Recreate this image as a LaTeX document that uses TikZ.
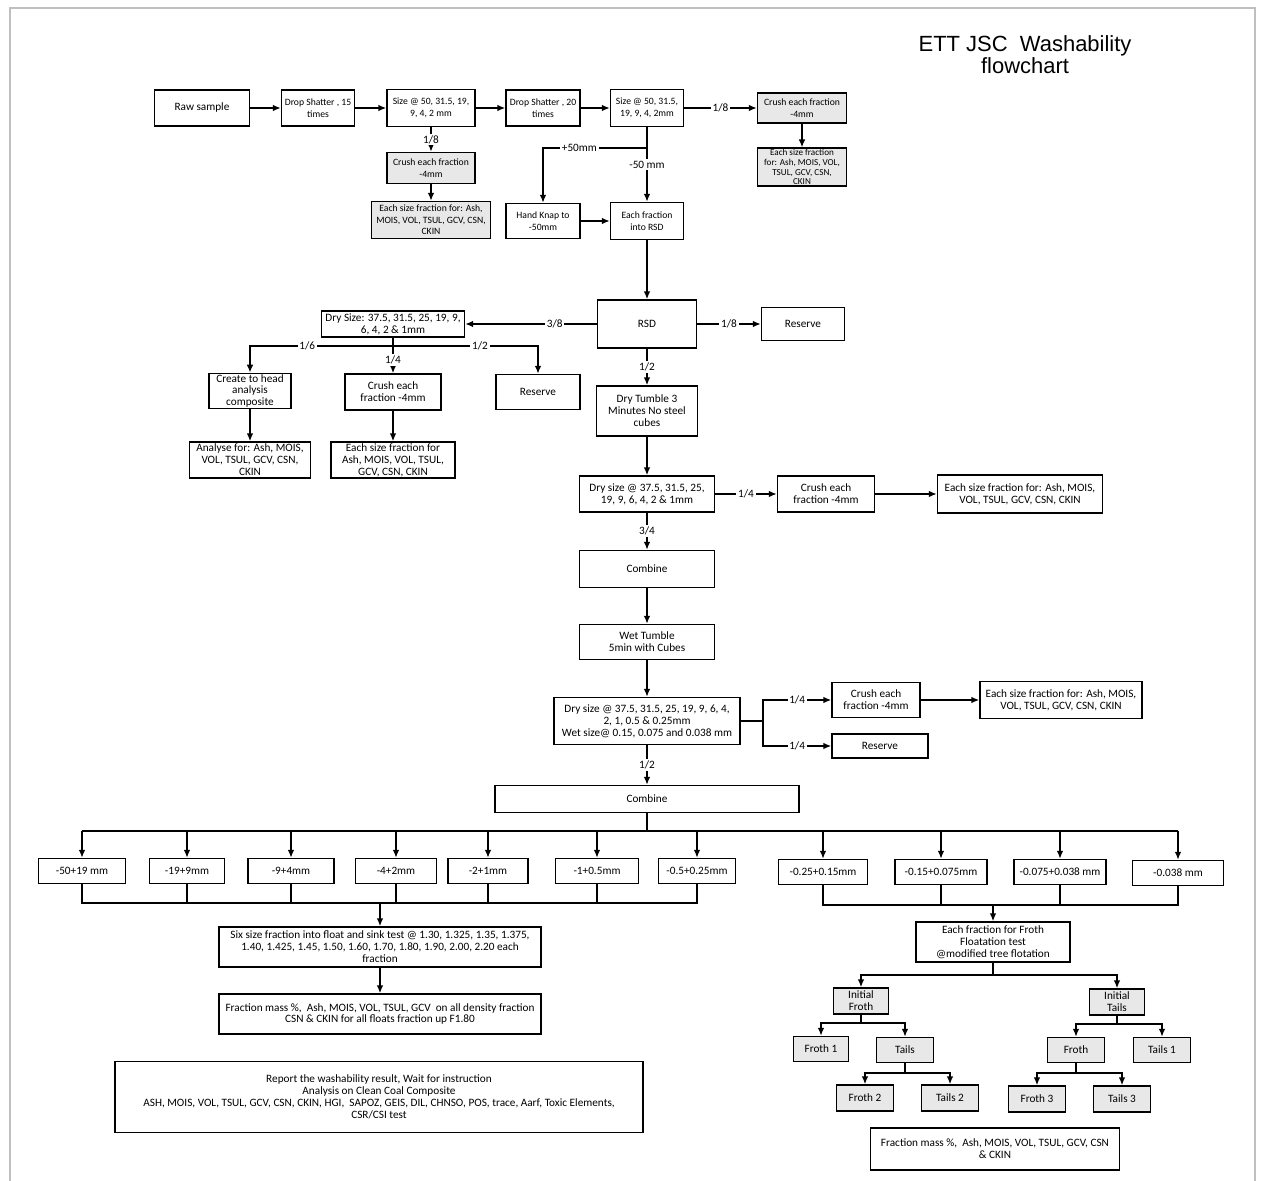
\documentclass[tikz,border=0pt]{standalone}
\usepackage{fontspec}
\setmainfont{Carlito}
\newfontfamily\titlefont{Liberation Sans}
\usepackage{tikz}
\usetikzlibrary{arrows.meta}
\newcommand{\boxfont}{\fontsize{6.4}{6.8}\selectfont}
\newcommand{\topfont}{\fontsize{5.5}{6.6}\selectfont}

\begin{document}
\begin{tikzpicture}[x=0.2mm, y=-0.2mm, >={Latex[length=4.5pt, width=3.8pt]},
    box/.style={draw, line width=0.85pt, align=center, inner sep=0.5pt, font=\boxfont},
    tbox/.style={box, font=\topfont},
    gbox/.style={tbox, fill=gray!18},
    wd/.style={minimum width=#1*0.2mm},
    ht/.style={minimum height=#1*0.2mm},
    lbl/.style={fill=white, inner sep=1pt, font=\boxfont},
    line/.style={line width=0.85pt}]
            \useasboundingbox (0,0) rectangle (1263,1181);
            \draw[gray!50, line width=0.6pt] (10,1181) -- (10,8) -- (1255,8) -- (1255,1181);
            \node[font=\titlefont\fontsize{12.5}{12.5}\selectfont, align=center] (title) at (1025,55) {ETT JSC\ \ Washability\\flowchart};

            \node[box, wd=95, ht=36] (raw) at (202,108) {Raw sample};
            \node[tbox, wd=73, ht=36] (ds15) at (318,108) {Drop Shatter , 15\\times};
            \node[tbox, wd=88, ht=37] (size1) at (431,108) {Size @ 50, 31.5, 19,\\9, 4, 2 mm};
            \node[tbox, wd=74, ht=36] (ds20) at (543,108) {Drop Shatter , 20\\times};
            \node[tbox, wd=73, ht=37] (size2) at (647,108) {Size @ 50, 31.5,\\19, 9, 4, 2mm};
            \node[gbox, wd=89, ht=30] (crush2) at (802,108) {Crush each fraction\\-4mm};
            \node[gbox, wd=89, ht=37, font=\fontsize{5.2}{5.6}\selectfont] (each2) at (802,167) {Each size fraction\\for: Ash, MOIS, VOL,\\TSUL, GCV, CSN,\\CKIN};
            \node[gbox, wd=88, ht=31] (crush1) at (431,168) {Crush each fraction\\-4mm};
            \node[gbox, wd=119, ht=37] (each1) at (431,220) {Each size fraction for: Ash,\\MOIS, VOL, TSUL, GCV, CSN,\\CKIN};
            \node[tbox, wd=74, ht=35] (knap) at (543,221) {Hand Knap to\\-50mm};
            \node[tbox, wd=73, ht=37] (intorsd) at (647,221) {Each fraction\\into RSD};
            \node[box, wd=99, ht=48] (rsd) at (647,324) {RSD};
            \node[box, wd=83, ht=33] (res1) at (803,324) {Reserve};
            \node[box, wd=143, ht=26] (dry1) at (393,324) {Dry Size: 37.5, 31.5, 25, 19, 9,\\6, 4, 2 \& 1mm};
            \node[box, wd=82, ht=35] (head) at (250,391) {Create to head\\analysis\\composite};
            \node[box, wd=96, ht=36] (crush3) at (393,392) {Crush each\\fraction -4mm};
            \node[box, wd=84, ht=35] (res2) at (538,392) {Reserve};
            \node[box, wd=121, ht=36] (anal) at (250,460) {Analyse for: Ash, MOIS,\\VOL, TSUL, GCV, CSN,\\CKIN};
            \node[box, wd=124, ht=36] (each3) at (393,460) {Each size fraction for\\Ash, MOIS, VOL, TSUL,\\GCV, CSN, CKIN};
            \node[box, wd=101, ht=50] (tumble) at (647,411) {Dry Tumble 3\\Minutes No steel\\cubes};
            \node[box, wd=135, ht=36] (dry2) at (647,494) {Dry size @ 37.5, 31.5, 25,\\19, 9, 6, 4, 2 \& 1mm};
            \node[box, wd=97, ht=36] (crush4) at (826,494) {Crush each\\fraction -4mm};
            \node[box, wd=165, ht=38] (each4) at (1020,494) {Each size fraction for: Ash, MOIS,\\VOL, TSUL, GCV, CSN, CKIN};
            \node[box, wd=135, ht=37] (comb1) at (647,569) {Combine};
            \node[box, wd=135, ht=35] (wet) at (647,642) {Wet Tumble\\5min with Cubes};
            \node[box, wd=186, ht=47] (dry3) at (647,721) {Dry size @ 37.5, 31.5, 25, 19, 9, 6, 4,\\2, 1, 0.5 \& 0.25mm\\Wet size@ 0.15, 0.075 and 0.038 mm};
            \node[box, wd=88, ht=35] (crush5) at (876,700) {Crush each\\fraction -4mm};
            \node[box, wd=162, ht=37] (each5) at (1061,700) {Each size fraction for: Ash, MOIS,\\VOL, TSUL, GCV, CSN, CKIN};
            \node[box, wd=96, ht=24] (res3) at (880,746) {Reserve};
            \node[box, wd=304, ht=27] (comb2) at (647,799) {Combine};

            \node[box, wd=87, ht=25] (s1) at (82,871) {-50+19 mm};
            \node[box, wd=75, ht=25] (s2) at (187,871) {-19+9mm};
            \node[box, wd=86, ht=25] (s3) at (291,871) {-9+4mm};
            \node[box, wd=81, ht=25] (s4) at (396,871) {-4+2mm};
            \node[box, wd=80, ht=25] (s5) at (488,871) {-2+1mm};
            \node[box, wd=83, ht=25] (s6) at (597,871) {-1+0.5mm};
            \node[box, wd=77, ht=25] (s7) at (697,871) {-0.5+0.25mm};
            \node[box, wd=89, ht=25] (s8) at (823,872) {-0.25+0.15mm};
            \node[box, wd=92, ht=25] (s9) at (941,872) {-0.15+0.075mm};
            \node[box, wd=92, ht=25] (s10) at (1060,872) {-0.075+0.038 mm};
            \node[box, wd=91, ht=25] (s11) at (1178,873) {-0.038 mm};

            \node[box, wd=322, ht=40] (float) at (380,947) {Six size fraction into float and sink test @ 1.30, 1.325, 1.35, 1.375,\\1.40, 1.425, 1.45, 1.50, 1.60, 1.70, 1.80, 1.90, 2.00, 2.20 each\\fraction};
            \node[box, wd=322, ht=40] (mass1) at (380,1014) {Fraction mass \%,\ \ Ash, MOIS, VOL, TSUL, GCV\ \ on all density fraction\\CSN \& CKIN for all floats fraction up F1.80};
            \node[box, wd=528, ht=71] (report) at (379,1097) {Report the washability result, Wait for instruction\\Analysis on Clean Coal Composite\\ASH, MOIS, VOL, TSUL, GCV, CSN, CKIN, HGI,\ \ SAPOZ, GEIS, DIL, CHNSO, POS, trace, Aarf, Toxic Elements,\\CSR/CSI test};

            \node[box, wd=154, ht=40] (froth) at (993,942) {Each fraction for Froth\\Floatation test\\@modified tree flotation};
            \node[gbox, font=\boxfont, wd=55, ht=26] (ifroth) at (861,1001) {Initial\\Froth};
            \node[gbox, font=\boxfont, wd=55, ht=26] (itails) at (1117,1002) {Initial\\Tails};
            \node[gbox, font=\boxfont, wd=55, ht=25] (froth1) at (821,1049) {Froth 1};
            \node[gbox, font=\boxfont, wd=57, ht=25] (tailsa) at (905,1050) {Tails};
            \node[gbox, font=\boxfont, wd=57, ht=26] (froth2) at (865,1098) {Froth 2};
            \node[gbox, font=\boxfont, wd=57, ht=26] (tails2) at (950,1098) {Tails 2};
            \node[gbox, font=\boxfont, wd=57, ht=25] (frothb) at (1076,1050) {Froth};
            \node[gbox, font=\boxfont, wd=57, ht=25] (tails1) at (1162,1050) {Tails 1};
            \node[gbox, font=\boxfont, wd=57, ht=26] (froth3) at (1037,1099) {Froth 3};
            \node[gbox, font=\boxfont, wd=57, ht=26] (tails3) at (1122,1099) {Tails 3};
            \node[box, wd=249, ht=42] (mass2) at (995,1149) {Fraction mass \%,\ \ Ash, MOIS, VOL, TSUL, GCV, CSN\\\& CKIN};

            \coordinate (k1) at (647,148);
            \coordinate (k2) at (393,346);
            \coordinate (k3) at (763,721);
            \coordinate (c2) at (647,831);
            \coordinate (j1) at (380,903);
            \coordinate (j2) at (993,905);
            \coordinate (k4) at (993,975);
            \coordinate (k5) at (861,1023);
            \coordinate (k6) at (905,1073);
            \coordinate (k7) at (1117,1024);
            \coordinate (k8) at (1076,1073);

            \draw[line, ->] (raw) -- (ds15);
            \draw[line, ->] (ds15) -- (size1);
            \draw[line, ->] (size1) -- (ds20);
            \draw[line, ->] (ds20) -- (size2);
            \draw[line, ->] (size2) -- node[lbl]{1/8} (crush2);
            \draw[line, ->] (crush2) -- (each2);
            \draw[line, ->] (size1) -- node[lbl]{1/8} (crush1);
            \draw[line, ->] (crush1) -- (each1);
            \draw[line, ->] (size2) -- node[lbl]{-50 mm} (intorsd);
            \draw[line, ->] (k1) -- node[lbl, pos=0.65]{+50mm} (k1 -| knap) -- (knap);
            \draw[line, ->] (knap) -- (intorsd);
            \draw[line, ->] (intorsd) -- (rsd);
            \draw[line, ->] (rsd) -- node[lbl]{1/8} (res1);
            \draw[line, ->] (rsd) -- node[lbl, pos=0.32]{3/8} (dry1);
            \draw[line] (dry1) -- (k2);
            \draw[line, ->] (k2) -- node[lbl, pos=0.6]{1/6} (k2 -| head) -- (head);
            \draw[line, ->] (k2) -- node[lbl, pos=0.6]{1/2} (k2 -| res2) -- (res2);
            \draw[line, ->] (k2) -- node[lbl]{1/4} (crush3);
            \draw[line, ->] (head) -- (anal);
            \draw[line, ->] (crush3) -- (each3);
            \draw[line, ->] (rsd) -- node[lbl]{1/2} (tumble);
            \draw[line, ->] (tumble) -- (dry2);
            \draw[line, ->] (dry2) -- node[lbl]{1/4} (crush4);
            \draw[line, ->] (crush4) -- (each4);
            \draw[line, ->] (dry2) -- node[lbl]{3/4} (comb1);
            \draw[line, ->] (comb1) -- (wet);
            \draw[line, ->] (wet) -- (dry3);
            \draw[line] (dry3) -- (k3);
            \draw[line, ->] (k3) |- node[lbl, pos=0.75]{1/4} (crush5);
            \draw[line, ->] (k3) |- node[lbl, pos=0.75]{1/4} (res3);
            \draw[line, ->] (crush5) -- (each5);
            \draw[line, ->] (dry3) -- node[lbl]{1/2} (comb2);

            \draw[line] (comb2) -- (c2);
            \draw[line] (s1 |- c2) -- (s11 |- c2);
            \draw[line, ->] (s1 |- c2) -- (s1);
            \draw[line, ->] (s2 |- c2) -- (s2);
            \draw[line, ->] (s3 |- c2) -- (s3);
            \draw[line, ->] (s4 |- c2) -- (s4);
            \draw[line, ->] (s5 |- c2) -- (s5);
            \draw[line, ->] (s6 |- c2) -- (s6);
            \draw[line, ->] (s7 |- c2) -- (s7);
            \draw[line, ->] (s8 |- c2) -- (s8);
            \draw[line, ->] (s9 |- c2) -- (s9);
            \draw[line, ->] (s10 |- c2) -- (s10);
            \draw[line, ->] (s11 |- c2) -- (s11);

            \draw[line] (s1) -- (s1 |- j1) -- (s7 |- j1) -- (s7);
            \draw[line] (s2) -- (s2 |- j1);
            \draw[line] (s3) -- (s3 |- j1);
            \draw[line] (s4) -- (s4 |- j1);
            \draw[line] (s5) -- (s5 |- j1);
            \draw[line] (s6) -- (s6 |- j1);
            \draw[line, ->] (j1) -- (float);
            \draw[line, ->] (float) -- (mass1);

            \draw[line] (s8) -- (s8 |- j2) -- (s11 |- j2) -- (s11);
            \draw[line] (s9) -- (s9 |- j2);
            \draw[line] (s10) -- (s10 |- j2);
            \draw[line, ->] (j2) -- (froth);

            \draw[line] (froth) -- (k4);
            \draw[line, ->] (k4) -| (ifroth);
            \draw[line, ->] (k4) -| (itails);
            \draw[line] (ifroth) -- (k5);
            \draw[line, ->] (k5) -| (froth1);
            \draw[line, ->] (k5) -| (tailsa);
            \draw[line] (tailsa) -- (k6);
            \draw[line, ->] (k6) -| (froth2);
            \draw[line, ->] (k6) -| (tails2);
            \draw[line] (itails) -- (k7);
            \draw[line, ->] (k7) -| (frothb);
            \draw[line, ->] (k7) -| (tails1);
            \draw[line] (frothb) -- (k8);
            \draw[line, ->] (k8) -| (froth3);
            \draw[line, ->] (k8) -| (tails3);
        \end{tikzpicture}
\end{document}
